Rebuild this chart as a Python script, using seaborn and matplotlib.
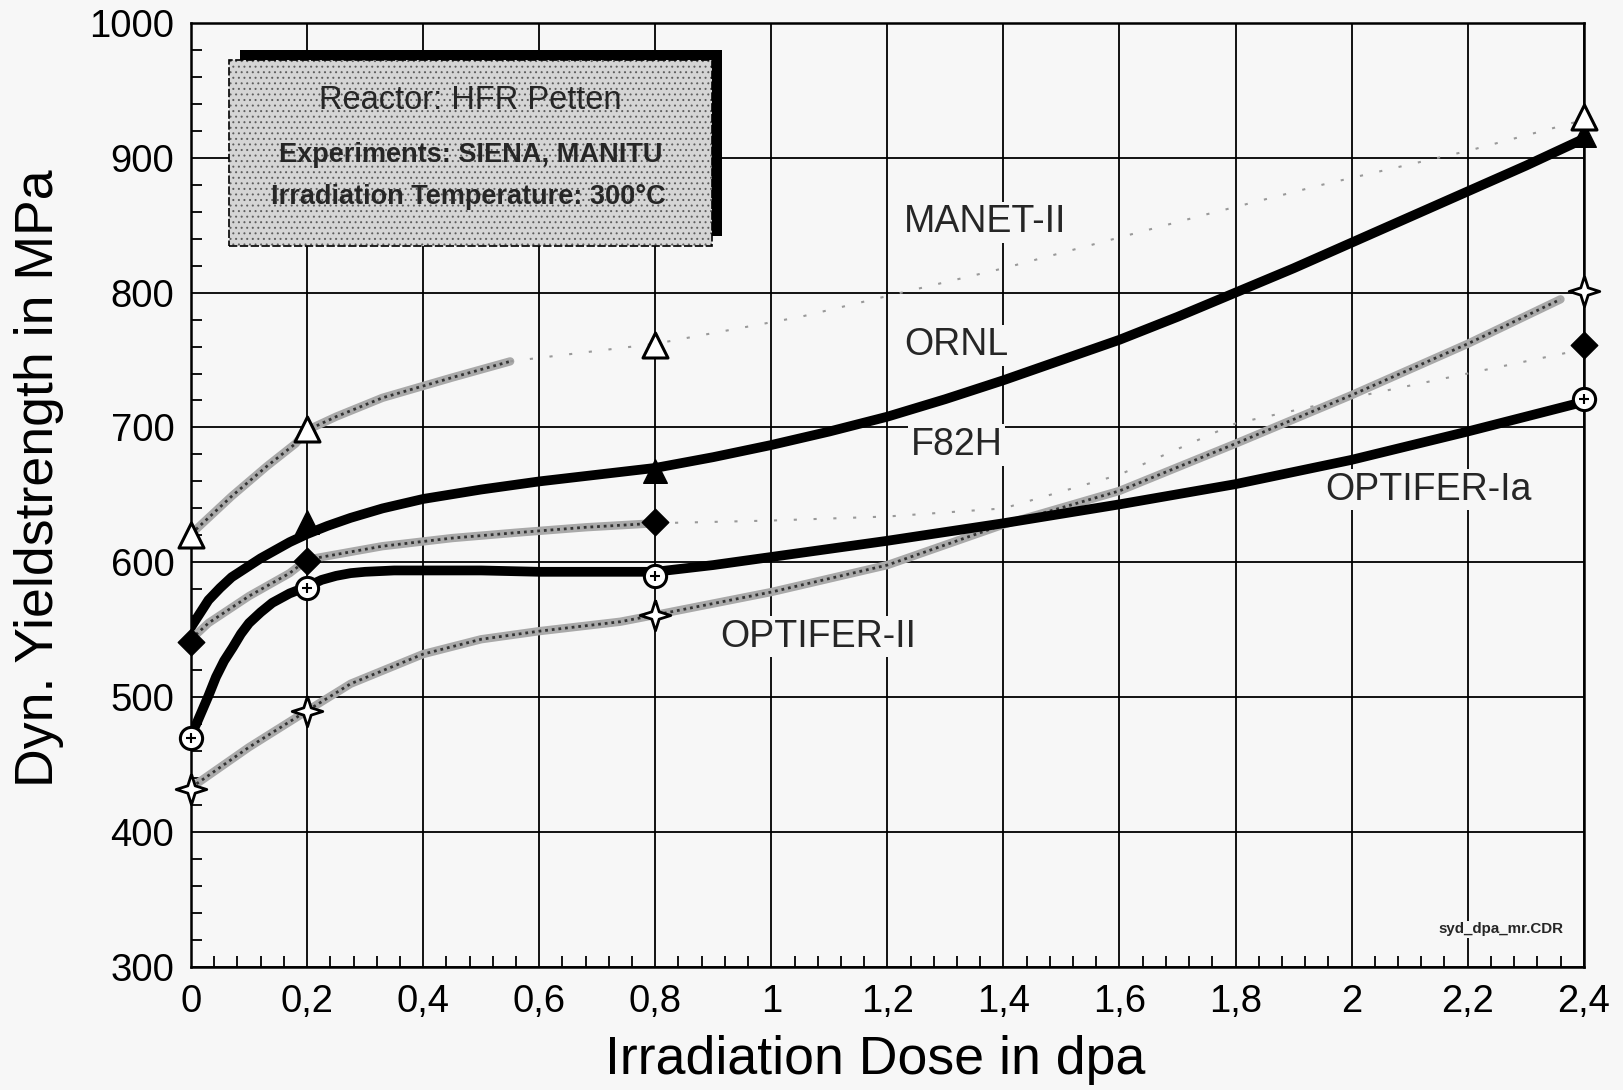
import matplotlib
matplotlib.use("Agg")
import numpy as np
import pandas as pd
import seaborn as sns
import matplotlib.pyplot as plt
from matplotlib.patches import Rectangle
from matplotlib.ticker import MultipleLocator
from matplotlib import font_manager as fm

# ---------------- data ----------------
dose_points = [0.0, 0.2, 0.8, 2.4]
manet_pts = [620, 699, 761, 930]
ornl_dose = [0.2, 0.8, 2.4]
ornl_pts = [630, 668, 917]
f82h_pts = [541, 601, 630, 761]
optIa_pts = [470, 581, 590, 721]
optII_pts = [432, 490, 561, 801]

# fitted curves as drawn in the reference
ornl_curve_x = [0, 0.015, 0.03, 0.05, 0.07, 0.095, 0.12, 0.145, 0.17, 0.2, 0.235, 0.275, 0.33, 0.4,
                0.5, 0.6, 0.7, 0.8, 0.9, 1.0, 1.1, 1.2, 1.3, 1.4, 1.5, 1.6, 1.7, 1.8, 1.9, 2.0, 2.1,
                2.2, 2.3, 2.4]
ornl_curve_y = [552, 562, 572, 581, 589, 596, 603, 609, 615, 621, 627, 633, 640, 647,
                654, 660, 665, 670, 678, 687, 697, 708, 721, 735, 750, 765, 782, 800, 818, 837, 856,
                875, 894, 914]

optIa_curve_x = [0, 0.01, 0.02, 0.03, 0.043, 0.057, 0.072, 0.086, 0.1, 0.12, 0.14, 0.17, 0.2, 0.225,
                 0.25, 0.275, 0.3, 0.35, 0.4, 0.5, 0.6, 0.7, 0.8, 0.9, 1.0, 1.1, 1.2, 1.4, 1.6, 1.8,
                 2.0, 2.2, 2.4]
optIa_curve_y = [472, 481, 491, 501, 515, 527, 537, 547, 555, 563, 570, 577, 582, 587,
                 590, 592, 593, 594, 594, 594, 593, 593, 593, 598, 604, 610, 616, 629, 643, 658,
                 676, 697, 719]

optII_curve_x = [0, 0.1, 0.2, 0.275, 0.4, 0.5, 0.6, 0.74, 0.8, 1.0, 1.2, 1.4, 1.6, 1.8, 2.0, 2.2, 2.36]
optII_curve_y = [433, 463, 490, 510, 532, 543, 549, 556, 561, 578, 598, 628, 653, 688, 724, 762, 795]

manet_curve_x = [0, 0.02, 0.07, 0.13, 0.18, 0.2, 0.25, 0.33, 0.45, 0.55, 0.8, 1.05, 1.4, 1.75, 1.95, 2.2, 2.4]
manet_curve_y = [621, 629, 649, 671, 688, 698, 708, 722, 737, 749, 762, 782, 818, 858, 880, 905, 928]

f82h_curve_x = [0, 0.03, 0.1, 0.17, 0.2, 0.33, 0.45, 0.56, 0.68, 0.8, 1.0, 1.2, 1.4, 1.6, 1.8, 2.0, 2.2, 2.4]
f82h_curve_y = [543, 555, 575, 592, 602, 612, 618, 622, 626, 629, 631, 634, 640, 665, 703, 722, 740, 758]

x_ticks = [0, 0.2, 0.4, 0.6, 0.8, 1.0, 1.2, 1.4, 1.6, 1.8, 2.0, 2.2, 2.4]
x_tick_labels = ["0", "0,2", "0,4", "0,6", "0,8", "1", "1,2", "1,4", "1,6", "1,8", "2", "2,2", "2,4"]
y_ticks = [300, 400, 500, 600, 700, 800, 900, 1000]
y_tick_labels = ["300", "400", "500", "600", "700", "800", "900", "1000"]

series_labels = ["MANET-II", "ORNL", "F82H", "OPTIFER-Ia", "OPTIFER-II"]
box_lines = ["Reactor: HFR Petten", "Experiments: SIENA, MANITU", "Irradiation Temperature: 300°C"]
x_title = "Irradiation Dose in dpa"
y_title = "Dyn. Yieldstrength in MPa"
file_tag = "syd_dpa_mr.CDR"

# ---------------- style ----------------
sns.set_style("white")
_names = {f.name for f in fm.fontManager.ttflist}
NARROW = "Liberation Sans Narrow" if "Liberation Sans Narrow" in _names else "Liberation Sans"
REG = "Liberation Sans" if "Liberation Sans" in _names else "DejaVu Sans"
SC = 1.0 if NARROW.endswith("Narrow") else 0.84
plt.rcParams["font.family"] = [NARROW, "DejaVu Sans"]
plt.rcParams["hatch.linewidth"] = 0.7
BG = "#f7f7f7"

fig = plt.figure(figsize=(16.23, 10.90), dpi=100, facecolor=BG)
ax = fig.add_axes([0.1177, 0.1128, 0.8581, 0.8663])
ax.set_facecolor(BG)
ax.set_axisbelow(True)


def gray_curve(xs, ys, strong_max):
    df = pd.DataFrame({"x": xs, "y": ys})
    strong = df[df.x <= strong_max + 1e-9]
    faint = df[df.x >= strong_max - 1e-9]
    if len(strong) > 1:
        sns.lineplot(data=strong, x="x", y="y", ax=ax, color="#a9a9a9", lw=6,
                     sort=False, estimator=None, zorder=2, solid_capstyle="round")
        sns.lineplot(data=strong, x="x", y="y", ax=ax, color="#333333", lw=2.0,
                     sort=False, estimator=None, zorder=2.1, linestyle=(0, (1, 1.4)))
    if len(faint) > 1:
        sns.lineplot(data=faint, x="x", y="y", ax=ax, color="#999999", lw=1.5,
                     sort=False, estimator=None, zorder=2, linestyle=(0, (1.5, 8)))


gray_curve(manet_curve_x, manet_curve_y, 0.55)
gray_curve(f82h_curve_x, f82h_curve_y, 0.8)
gray_curve(optII_curve_x, optII_curve_y, 2.4)

for cx, cy in [(ornl_curve_x, ornl_curve_y), (optIa_curve_x, optIa_curve_y)]:
    sns.lineplot(x=cx, y=cy, ax=ax, color="black", lw=7, sort=False,
                 estimator=None, zorder=3, solid_capstyle="round", solid_joinstyle="round")

# markers
star = [(0, 1), (0.24, 0.24), (1, 0), (0.24, -0.24), (0, -1), (-0.24, -0.24), (-1, 0), (-0.24, 0.24), (0, 1)]
sns.scatterplot(x=dose_points, y=optII_pts, ax=ax, marker=star, s=22 ** 2, color="white",
                edgecolor="black", linewidth=2.0, zorder=5, clip_on=False)
sns.scatterplot(x=dose_points, y=optIa_pts, ax=ax, marker="o", s=16 ** 2, color="white",
                edgecolor="black", linewidth=2.2, zorder=5, clip_on=False)
sns.scatterplot(x=dose_points, y=optIa_pts, ax=ax, marker="+", s=7 ** 2, color="black",
                linewidth=1.5, zorder=5.1, clip_on=False)
sns.scatterplot(x=dose_points, y=f82h_pts, ax=ax, marker="D", s=13.5 ** 2, color="black",
                edgecolor="black", linewidth=1, zorder=5, clip_on=False)
sns.scatterplot(x=ornl_dose, y=ornl_pts, ax=ax, marker="^", s=17 ** 2, color="black",
                edgecolor="black", linewidth=1, zorder=5, clip_on=False)
sns.scatterplot(x=dose_points, y=manet_pts, ax=ax, marker="^", s=18 ** 2, color="white",
                edgecolor="black", linewidth=2.2, zorder=5, clip_on=False)

# axes
ax.set_xlim(0, 2.4)
ax.set_ylim(300, 1000)
ax.set_xticks(x_ticks)
ax.set_xticklabels(x_tick_labels)
ax.set_yticks(y_ticks)
ax.set_yticklabels(y_tick_labels)
ax.xaxis.set_minor_locator(MultipleLocator(0.04))
ax.yaxis.set_minor_locator(MultipleLocator(20))
ax.tick_params(which="major", length=0, labelsize=27.5 if SC < 1 else 31,
               pad=12, colors="black")
ax.tick_params(which="minor", direction="in", length=8, width=1.3, color="black",
               bottom=True, left=True, top=False, right=False)
ax.grid(True, which="major", color="black", lw=1.3)
for sp in ax.spines.values():
    sp.set_visible(True)
    sp.set_color("black")
    sp.set_linewidth(1.8)
ax.set_xlabel(x_title, fontsize=46 * SC, color="black")
ax.set_ylabel(y_title, fontsize=46 * SC, color="black")
ax.xaxis.label.set_va("center")
ax.yaxis.label.set_va("center")
ax.xaxis.set_label_coords(0.491, -0.0986)
ax.yaxis.set_label_coords(-0.109, 0.518)

# curve labels
label_pos = [(1.369, 852), (1.319, 761), (1.319, 687), (2.132, 654), (1.08, 545)]
for lab, (lx, ly) in zip(series_labels, label_pos):
    ax.text(lx, ly, lab, fontsize=27, family=[REG, "DejaVu Sans"], ha="center", va="center",
            zorder=2.5, bbox=dict(facecolor=BG, edgecolor="none", pad=2))

# info box with shadow
bx, by, bw, bh = 0.066, 834.4, 0.8316, 138.0
ax.add_patch(Rectangle((bx + 0.018, by + 7.7), bw, bh, facecolor="black", edgecolor="black",
                       lw=0, zorder=6))
ax.add_patch(Rectangle((bx, by), bw, bh, facecolor="#d5d5d5", edgecolor="#5e5e5e",
                       hatch="...", lw=0, zorder=6.1))
ax.add_patch(Rectangle((bx, by), bw, bh, fill=False, edgecolor="black", lw=1.2,
                       linestyle=(0, (5, 1.5)), zorder=6.2))
ax.text(0.482, 942.5, box_lines[0], fontsize=28 * SC, ha="center", va="center", zorder=7)
ax.text(0.482, 902, box_lines[1], fontsize=23.2 * SC, fontweight="bold", ha="center",
        va="center", zorder=7)
ax.text(0.478, 871, box_lines[2], fontsize=23.2 * SC, fontweight="bold", ha="center",
        va="center", zorder=7)

ax.text(2.257, 328, file_tag, fontsize=13 * SC, fontweight="bold", ha="center", va="center",
        zorder=2.5, bbox=dict(facecolor=BG, edgecolor="none", pad=1))

fig.savefig("out.png", dpi=100, facecolor=BG)
